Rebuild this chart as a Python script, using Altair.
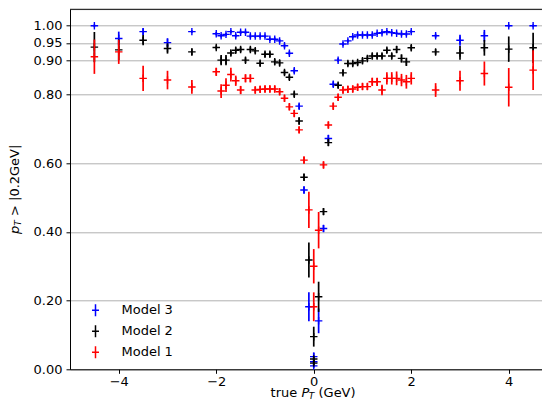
import altair as alt
import pandas as pd

# ---------------- data ----------------
models = ["Model 3", "Model 2", "Model 1"]
colors = ["#0000ff", "#000000", "#ff0000"]

m3_x = [-4.5, -4.0, -3.5, -3.0, -2.5,
        -2.0, -1.9, -1.8, -1.7, -1.6, -1.5, -1.4, -1.3, -1.2, -1.1, -1.0,
        -0.9, -0.8, -0.7, -0.6, -0.5, -0.4, -0.3, -0.2, -0.1,
        0.0, 0.0, 0.0, 0.1, 0.2, 0.3, 0.4, 0.5, 0.6, 0.7, 0.8, 0.9, 1.0,
        1.1, 1.2, 1.3, 1.4, 1.5, 1.6, 1.7, 1.8, 1.9, 2.0,
        2.5, 3.0, 3.5, 4.0, 4.5]
m3_y = [1.000, 0.963, 0.983, 0.951, 0.983,
        0.977, 0.971, 0.975, 0.983, 0.971, 0.981, 0.981, 0.970, 0.970, 0.970, 0.970,
        0.961, 0.961, 0.956, 0.942, 0.920, 0.869, 0.766, 0.522, 0.182,
        0.037, 0.022, 0.010, 0.141, 0.410, 0.672, 0.830, 0.900, 0.947, 0.956, 0.968, 0.973, 0.973,
        0.973, 0.973, 0.978, 0.980, 0.983, 0.980, 0.978, 0.976, 0.976, 0.983,
        0.971, 0.958, 0.971, 1.000, 1.000]
m3_err = [0.004, 0.020, 0.010, 0.013, 0.004,
          0.005, 0.005, 0.005, 0.005, 0.005, 0.005, 0.005, 0.005, 0.005, 0.005, 0.005,
          0.005, 0.005, 0.005, 0.006, 0.006, 0.007, 0.008, 0.010, 0.042,
          0.012, 0.008, 0.006, 0.036, 0.010, 0.010, 0.008, 0.006, 0.005, 0.005, 0.005, 0.005, 0.005,
          0.005, 0.005, 0.005, 0.005, 0.005, 0.005, 0.005, 0.005, 0.005, 0.005,
          0.006, 0.016, 0.017, 0.004, 0.004]

m2_x = [-4.5, -4.0, -3.5, -3.0, -2.5,
        -2.0, -1.9, -1.8, -1.7, -1.6, -1.5, -1.4, -1.3, -1.2, -1.1, -1.0,
        -0.9, -0.8, -0.7, -0.6, -0.5, -0.4, -0.3, -0.2, -0.1,
        0.0, 0.0, 0.0, 0.1, 0.2, 0.3, 0.5, 0.6, 0.7, 0.8, 0.9, 1.0,
        1.1, 1.2, 1.3, 1.4, 1.5, 1.6, 1.7, 1.8, 1.9, 2.0,
        2.5, 3.0, 3.5, 4.0, 4.5]
m2_y = [0.938, 0.930, 0.958, 0.934, 0.924,
        0.937, 0.900, 0.900, 0.921, 0.929, 0.931, 0.900, 0.931, 0.927, 0.891, 0.917,
        0.917, 0.895, 0.892, 0.864, 0.850, 0.801, 0.723, 0.559, 0.318,
        0.095, 0.030, 0.018, 0.211, 0.459, 0.660, 0.827, 0.863, 0.890, 0.890, 0.893, 0.898,
        0.905, 0.912, 0.912, 0.912, 0.929, 0.912, 0.931, 0.905, 0.895, 0.936,
        0.924, 0.921, 0.936, 0.932, 0.936]
m2_err = [0.044, 0.030, 0.015, 0.015, 0.010,
          0.006, 0.015, 0.015, 0.008, 0.008, 0.008, 0.008, 0.008, 0.008, 0.008, 0.008,
          0.008, 0.008, 0.008, 0.008, 0.008, 0.008, 0.010, 0.010, 0.051,
          0.029, 0.008, 0.006, 0.044, 0.010, 0.010, 0.008, 0.008, 0.008, 0.008, 0.008, 0.008,
          0.008, 0.008, 0.008, 0.008, 0.008, 0.008, 0.010, 0.012, 0.012, 0.008,
          0.008, 0.020, 0.023, 0.037, 0.044]

m1_x = [-4.5, -4.0, -3.5, -3.0, -2.5,
        -2.0, -1.9, -1.8, -1.7, -1.6, -1.5, -1.4, -1.3, -1.2, -1.1, -1.0,
        -0.9, -0.8, -0.7, -0.6, -0.5, -0.4, -0.3, -0.2, -0.1,
        0.0, 0.0, 0.1, 0.2, 0.3, 0.4, 0.5, 0.6, 0.7, 0.8, 0.9, 1.0,
        1.1, 1.2, 1.3, 1.4, 1.5, 1.6, 1.7, 1.8, 1.9, 2.0,
        2.5, 3.0, 3.5, 4.0, 4.5]
m1_y = [0.910, 0.924, 0.847, 0.842, 0.822,
        0.866, 0.810, 0.827, 0.858, 0.840, 0.813, 0.847, 0.847, 0.813, 0.815, 0.816,
        0.816, 0.816, 0.808, 0.789, 0.764, 0.745, 0.697, 0.609, 0.464,
        0.300, 0.182, 0.405, 0.595, 0.711, 0.766, 0.792, 0.813, 0.815, 0.816, 0.821, 0.823,
        0.823, 0.837, 0.837, 0.813, 0.847, 0.847, 0.847, 0.842, 0.837, 0.847,
        0.813, 0.840, 0.861, 0.821, 0.871]
m1_err = [0.050, 0.035, 0.037, 0.027, 0.020,
          0.012, 0.020, 0.020, 0.020, 0.015, 0.012, 0.012, 0.012, 0.010, 0.010, 0.010,
          0.010, 0.010, 0.010, 0.010, 0.010, 0.010, 0.010, 0.010, 0.053,
          0.050, 0.042, 0.053, 0.010, 0.010, 0.010, 0.010, 0.010, 0.010, 0.010, 0.010, 0.010,
          0.010, 0.012, 0.012, 0.015, 0.018, 0.018, 0.020, 0.018, 0.020, 0.018,
          0.020, 0.029, 0.035, 0.056, 0.058]

x_ticks = [-4, -2, 0, 2, 4]
y_ticks = [0.0, 0.2, 0.4, 0.6, 0.8, 0.9, 0.95, 1.0]

series = {
    "Model 3": (m3_x, m3_y, m3_err),
    "Model 2": (m2_x, m2_y, m2_err),
    "Model 1": (m1_x, m1_y, m1_err),
}

# ---------------- layout ----------------
W, H = 472, 360
FONT = "DejaVu Sans"
PLUS = "M-1,0H1M0,-1V1"
LEG_SYM = "M-0.58,0H0.58M0,-1V1"

xscale = alt.Scale(domain=[-5, -5 + W / 48.75], nice=False, zero=False)
yscale = alt.Scale(domain=[0, 1.048], nice=False, zero=False)

x_axis = alt.Axis(values=x_ticks, format="d", title=None, grid=False, tickSize=4,
                  tickColor="black", domainColor="black", labelColor="black",
                  labelFont=FONT, labelFontSize=13, labelPadding=2, labelOverlap=False,
                  labelFlush=False)
y_axis = alt.Axis(values=y_ticks, format=".2f", title=None, grid=True, gridColor="#b0b0b0",
                  gridWidth=1, tickSize=4, tickColor="black", domainColor="black",
                  labelColor="black", labelFont=FONT, labelFontSize=13, labelPadding=4,
                  labelOverlap=False)

color_scale = alt.Scale(domain=models, range=colors)
legend = alt.Legend(title=None, orient="none", legendX=18.5, legendY=294,
                    symbolType=LEG_SYM, symbolSize=144, symbolStrokeWidth=1.5,
                    symbolFillColor="transparent", labelFont=FONT, labelFontSize=13,
                    labelColor="black", labelOffset=19, rowPadding=3, padding=0)
color_enc = alt.Color("model:N", scale=color_scale, legend=legend, sort=models)

layers = []
for m in models:
    xs, ys, es = series[m]
    df = pd.DataFrame({"model": m, "x": xs, "y": ys, "err": es})
    df["lo"] = df["y"] - df["err"]
    df["hi"] = df["y"] + df["err"]
    base = alt.Chart(df)
    bars = base.mark_rule(strokeWidth=1.7).encode(
        x=alt.X("x:Q", scale=xscale, axis=x_axis),
        y=alt.Y("lo:Q", scale=yscale, axis=y_axis),
        y2="hi:Q",
        color=color_enc,
    )
    pts = base.mark_point(shape=PLUS, filled=False, size=56, strokeWidth=1.4, opacity=1).encode(
        x=alt.X("x:Q", scale=xscale, axis=x_axis),
        y=alt.Y("y:Q", scale=yscale, axis=y_axis),
        color=color_enc,
    )
    layers += [bars, pts]

one = pd.DataFrame({"v": [0]})
top_spine = alt.Chart(one).mark_rule(color="black", strokeWidth=1).encode(
    x=alt.value(0), x2=alt.value(W), y=alt.value(0))


def txt(s, x, y, size=13, italic=False, angle=0):
    kw = dict(text=s, align="left", baseline="alphabetic", font=FONT, fontSize=size,
              color="black")
    if italic:
        kw["fontStyle"] = "italic"
    if angle:
        kw["angle"] = angle
    return alt.Chart(one).mark_text(**kw).encode(x=alt.value(x), y=alt.value(y))


# x title: true P_T (GeV)
x0, xb = 200.6, 387.5
x_title = [
    txt("true", x0, xb),
    txt("P", x0 + 30.8, xb, italic=True),
    txt("T", x0 + 38.2, xb + 2.5, size=9, italic=True),
    txt("(GeV)", x0 + 47.9, xb),
]
# y title: p_T > |0.2GeV|  (rotated)
yb, y0 = -51.5, 224.7
y_title = [
    txt("p", yb, y0, italic=True, angle=270),
    txt("T", yb + 2.8, y0 - 8.3, size=9, italic=True, angle=270),
    txt(">", yb, y0 - 18.0, angle=270),
    txt("|0.2GeV|", yb, y0 - 33.0, angle=270),
]

chart = alt.layer(*layers, top_spine, *x_title, *y_title).properties(
    width=W, height=H,
    autosize=alt.AutoSizeParams(type="none"),
    padding={"left": 62, "top": 1.3, "right": 0, "bottom": 32.5},
    background="white",
).configure_view(stroke=None).configure(font=FONT)

chart.save("out.html", embed_options={"renderer": "svg", "actions": False})
